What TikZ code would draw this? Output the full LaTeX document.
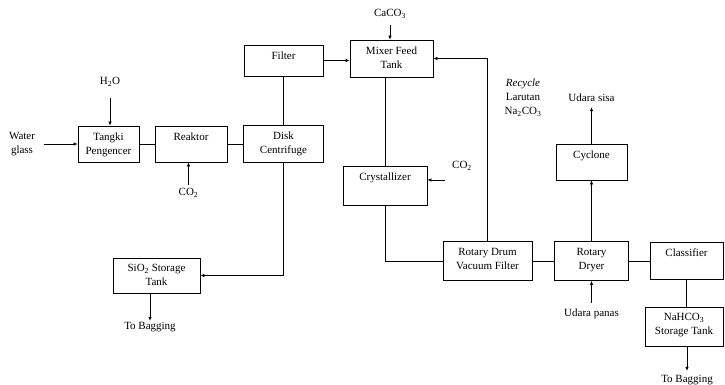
\documentclass[tikz,border=0pt]{standalone}
\usepackage{fontspec}
\setmainfont{Liberation Serif}
\usetikzlibrary{arrows.meta}

\begin{document}
\begin{tikzpicture}[->,>={Latex[length=4pt,width=3.5pt]},x=1pt,y=-1pt,
                line width=0.7pt,font=\fontsize{11}{14}\selectfont,
                main node/.style={rectangle,draw,inner sep=0pt},
                box text/.style={anchor=north,align=center,inner sep=6.5pt},
                text node/.style={align=center,inner sep=1pt}]
	\useasboundingbox (0,0) rectangle (725,385);

	\node[main node,minimum width=61pt,minimum height=36pt,label={[box text]north:{Tangki\\Pengencer}}] (1) at (108.5,144) {};
	\node[main node,minimum width=72pt,minimum height=36pt,label={[box text]north:Reaktor}] (2) at (191,144) {};
	\node[main node,minimum width=80pt,minimum height=37pt,label={[box text]north:{Disk\\Centrifuge}}] (3) at (283.5,144) {};
	\node[main node,minimum width=79pt,minimum height=31pt,label={[box text]north:Filter}] (4) at (283.5,60.5) {};
	\node[main node,minimum width=83pt,minimum height=37pt,label={[box text]north:{Mixer Feed\\Tank}}] (5) at (391.5,58.5) {};
	\node[main node,minimum width=84pt,minimum height=39pt,label={[box text]north:Crystallizer}] (6) at (385,185.5) {};
	\node[main node,minimum width=89pt,minimum height=39pt,label={[box text]north:{Rotary Drum\\Vacuum Filter}}] (7) at (487.5,261) {};
	\node[main node,minimum width=74pt,minimum height=39pt,label={[box text]north:{Rotary\\Dryer}}] (8) at (591.5,261) {};
	\node[main node,minimum width=73pt,minimum height=37pt,label={[box text]north:Classifier}] (9) at (686.5,261) {};
	\node[main node,minimum width=78pt,minimum height=39pt,label={[box text]north:{NaHCO\textsubscript{3}\\Storage Tank}}] (10) at (684,326.5) {};
	\node[main node,minimum width=71pt,minimum height=36pt,label={[box text]north:Cyclone}] (11) at (591.5,162) {};
	\node[main node,minimum width=87pt,minimum height=35pt,label={[box text]north:{SiO\textsubscript{2} Storage\\Tank}}] (12) at (156.5,275.5) {};

	\node[text node] (water) at (22,144) {Water\\glass};
	\node[text node] (h2o) at (110,82) {H\textsubscript{2}O};
	\node[text node] (co2a) at (188.5,193) {CO\textsubscript{2}};
	\node[text node] (caco3) at (390,14) {CaCO\textsubscript{3}};
	\node[text node] (co2b) at (462,166) {CO\textsubscript{2}};
	\node[text node] (recycle) at (523,98) {\textit{Recycle}\\Larutan\\Na\textsubscript{2}CO\textsubscript{3}};
	\node[text node] (sisa) at (591.5,98) {Udara sisa};
	\node[text node] (panas) at (591.5,314) {Udara panas};
	\node[text node] (bag1) at (150,327) {To Bagging};
	\node[text node] (bag2) at (687,380) {To Bagging};
	\coordinate (co2in) at (445,180);

	\path
	(1) edge[-] (2)
	(2) edge[-] (3)
	(4) edge[-] (3)
	(7) edge[-] (8)
	(8) edge[-] (9)
	(8) edge (11)
	(11) edge[shorten >=4pt] (sisa)
	(panas) edge[shorten <=5pt] (8)
;
	\draw ([xshift=8pt]water.east) -- (1.west);
	\draw[shorten <=10pt] (h2o.south) -- (h2o.south |- 1.north);
	\draw[shorten <=2pt] (co2a.north) -- (co2a.north |- 2.south);
	\draw[shorten <=5pt] (caco3.south) -- (caco3.south |- 5.north);
	\draw (4.east) -- (4.east -| 5.west);
	\draw[-] (6.north) -- (6.north |- 5.south);
	\draw (co2in) -- (co2in -| 6.east);
	\draw[-] (6.south) |- (7.west);
	\draw (7.north) |- (5.east);
	\draw[-] (9.south) -- (9.south |- 10.north);
	\draw[shorten >=3pt] (bag2 |- 10.south) -- (bag2.north);
	\draw (3.south) |- (12.east);
	\draw (bag1 |- 12.south) -- (bag1.north);
\end{tikzpicture}
\end{document}
